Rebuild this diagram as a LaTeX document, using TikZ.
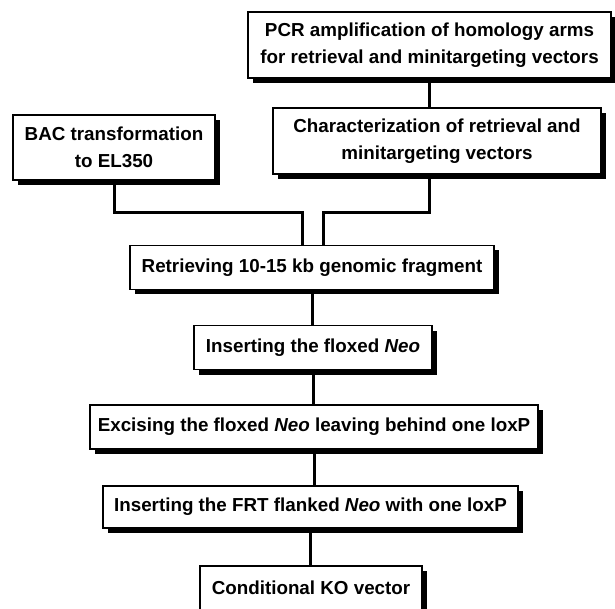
\documentclass[tikz,border=0pt]{standalone}
\usepackage{fontspec}
\setmainfont{Liberation Sans}
\usetikzlibrary{shadows}
\tikzset{
  box/.style={draw,fill=white,line width=1.3pt,align=center,inner sep=0pt,
    font=\bfseries\fontsize{18.8}{27}\selectfont,
    drop shadow={shadow xshift=5pt,shadow yshift=-5pt,fill=black,opacity=1}},
  link/.style={line width=3pt}}

\begin{document}
\begin{tikzpicture}[x=1pt,y=-1pt]
	\useasboundingbox (0,0) rectangle (615,609);
	\coordinate (j1) at (302,213);
	\coordinate (j2) at (323,213);
\node[box,minimum width=363pt,minimum height=66pt] (pcr) at (429.5,45) {PCR amplification of homology arms\\for retrieval and minitargeting vectors};
\node[box,minimum width=328pt,minimum height=66pt] (char) at (437,141) {Characterization of retrieval and\\minitargeting vectors};
\node[box,minimum width=202pt,minimum height=65pt] (bac) at (114,147.5) {BAC transformation\\to EL350};
\node[box,minimum width=364pt,minimum height=44pt] (retr) at (312,267.5) {Retrieving 10-15 kb genomic fragment};
\node[box,minimum width=238pt,minimum height=44pt] (flox) at (313,347.5) {Inserting the floxed \textit{Neo}};
\node[box,minimum width=448pt,minimum height=44pt] (exc) at (314,427) {Excising the floxed \textit{Neo} leaving behind one loxP};
\node[box,minimum width=415pt,minimum height=42pt] (frt) at (310.5,507) {Inserting the FRT flanked \textit{Neo} with one loxP};
\node[box,minimum width=222pt,minimum height=44pt] (cko) at (311,588) {Conditional KO vector};
\draw[link] (pcr.south) -- (pcr.south |- char.north);
\draw[link] (pcr.south |- char.south) |- (j2) -- (j2 |- retr.north);
\draw[link] (bac.south) |- (j1) -- (j1 |- retr.north);
\draw[link] (retr.south) -- (retr.south |- flox.north);
\draw[link] (flox.south) -- (flox.south |- exc.north);
\draw[link] (exc.south) -- (exc.south |- frt.north);
\draw[link] (frt.south) -- (frt.south |- cko.north);
	\end{tikzpicture}
\end{document}
